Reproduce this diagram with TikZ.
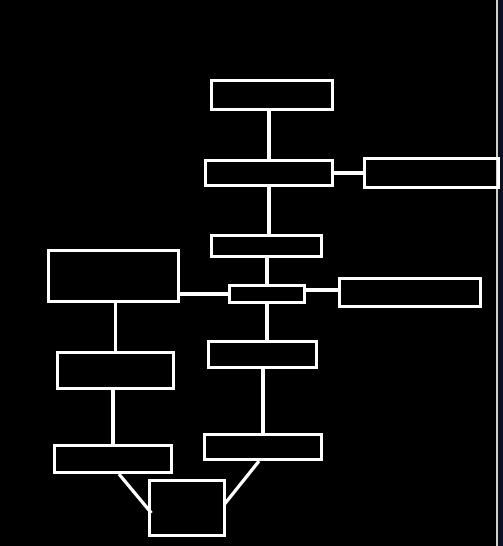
\documentclass[tikz,border=0pt]{standalone}
\usetikzlibrary{calc}
\definecolor{navystrip}{HTML}{0B1020}
\definecolor{sepgray}{HTML}{D0D0D0}
\tikzset{
  box/.style={draw=white, line width=3.2pt, rectangle, inner sep=0pt, fill=none},
  link/.style={draw=white, line width=3.2pt}
}
\begin{document}
\begin{tikzpicture}[x=1pt,y=-1pt]
  \fill[black] (0,0) rectangle (503,546);
  \useasboundingbox (0,0) rectangle (503,546);
  \fill[navystrip] (498,0) rectangle (503,546);
  \draw[sepgray, line width=1.8pt] (497,0) -- (497,546);

  \node[box, minimum width=121pt, minimum height=29pt] (n1) at (272,95) {};
  \node[box, minimum width=127pt, minimum height=25pt] (n2) at (269,173) {};
  \node[box, minimum width=134pt, minimum height=29pt] (n3) at (431.5,173) {};
  \node[box, minimum width=110pt, minimum height=21pt] (n4) at (266.5,246) {};
  \node[box, minimum width=130pt, minimum height=51pt] (n5) at (113.5,276) {};
  \node[box, minimum width=75pt, minimum height=17pt] (n6) at (267,294) {};
  \node[box, minimum width=141pt, minimum height=28pt] (n7) at (410,292.5) {};
  \node[box, minimum width=108pt, minimum height=26pt] (n8) at (262.5,354.5) {};
  \node[box, minimum width=116pt, minimum height=36pt] (n9) at (115.5,370.5) {};
  \node[box, minimum width=117pt, minimum height=27pt] (n10) at (113,459) {};
  \node[box, minimum width=117pt, minimum height=25pt] (n11) at (263,447) {};
  \node[box, minimum width=75pt, minimum height=55pt] (n12) at (187,508) {};

  \draw[link] (n1.south -| n2.north) -- (n2.north);
  \draw[link] (n2.east) -- (n3.west);
  \draw[link] (n2.south) -- (n2.south |- n4.north);
  \draw[link] (n6.north |- n4.south) -- (n6.north);
  \draw[link] (n5.east |- n6.west) -- (n6.west);
  \draw[link] ($(n6.east)+(0,-4)$) -- ($(n7.west |- n6.east)+(0,-4)$);
  \draw[link] (n6.south) -- (n6.south |- n8.north);
  \draw[link] (n9.north |- n5.south) -- (n9.north);
  \draw[link] (n9.south -| n10.north) -- (n10.north);
  \draw[link] (n11.north |- n8.south) -- (n11.north);
  \draw[link] ($(n10.south)+(6,0)$) -- ($(n12.west)+(3.5,5)$);
  \draw[link] ($(n11.south)+(-4,0)$) -- ($(n12.east)+(-1.5,-4)$);
\end{tikzpicture}
\end{document}
